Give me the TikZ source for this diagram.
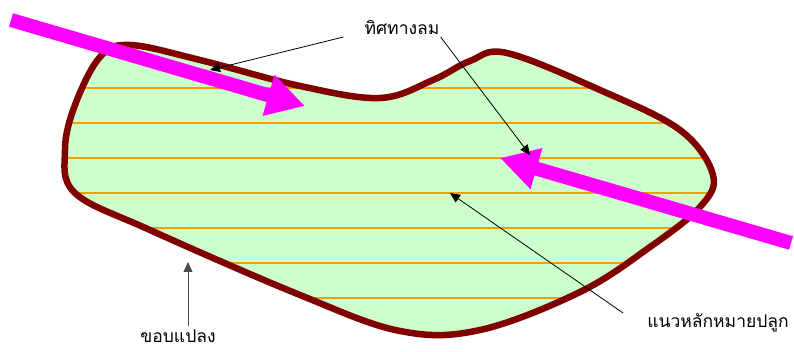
\documentclass[tikz,border=0pt]{standalone}
\usepackage{fontspec}
\newfontfamily\thaifont[Script=Thai]{Loma}
\usetikzlibrary{arrows.meta}
\definecolor{plotedge}{HTML}{800000}
\definecolor{plotfill}{HTML}{CCFFCC}
\definecolor{rowline}{HTML}{F0A000}
\definecolor{wind}{HTML}{FF00FF}
\def\plotpath{plot[smooth cycle,tension=0.6] coordinates {(130,45) (200,60) (300,86)
  (380,98) (433,80) (470,61) (507,53) (600,90) (680,130) (713,175) (700,207) (650,247)
  (580,292) (480,330) (400,331) (300,295) (150,230) (75,193) (65,150) (75,105) (100,57)}}

\begin{document}
\begin{tikzpicture}[x=1pt,y=-1pt,
  lbl/.style={font=\thaifont\fontsize{17.5}{20}\selectfont,text=black,inner sep=1pt},
  ptr/.style={-{Triangle[length=10pt,width=9pt]},line width=0.8pt,color=black},
  windarr/.style={wind,line width=14pt,-{Triangle[length=38pt,width=40pt]}},
  row/.style={rowline,line width=1.4pt},
]
  \useasboundingbox (0,0) rectangle (794,352);
  % the plot
  \fill[plotfill] \plotpath;
  \begin{scope}
    \clip \plotpath;
    \foreach \y in {88,123,158,193,228,263,298}
      \draw[row] (0,\y) -- (794,\y);
  \end{scope}
  \draw[plotedge,line width=6.5pt] \plotpath;
  % wind
  \coordinate (wa0) at (11,20);
  \coordinate (wa1) at (305,106);
  \coordinate (wb0) at (791,243);
  \coordinate (wb1) at (500,158);
  \draw[windarr] (wa0) -- (wa1);
  \draw[windarr] (wb0) -- (wb1);
  % labels
  \node[lbl] (wind) at (402,28) {ทิศทางลม};
  \node[lbl] (edge) at (178,336) {ขอบแปลง};
  \node[lbl] (rows) at (718,323) {แนวหลักหมายปลูก};
  \coordinate (w1) at (210,70);
  \coordinate (w2) at (530,155);
  \coordinate (e1) at (188,262);
  \coordinate (r1) at (450,193);
  \draw[ptr] ([shift={(-20,9)}]wind.west) -- (w1);
  \draw[ptr] ([shift={(0,9)}]wind.east) -- (w2);
  \draw[ptr,color=black!70] ([yshift=2pt]edge.north -| e1) -- (e1);
  \draw[ptr] ([shift={(-23,-10)}]rows.west) -- (r1);
\end{tikzpicture}
\end{document}
